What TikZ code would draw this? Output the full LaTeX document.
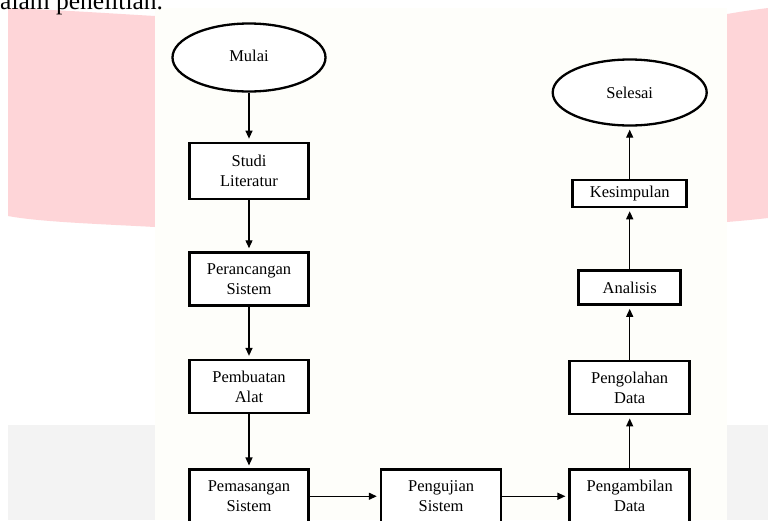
\documentclass[tikz,border=0pt]{standalone}
\usepackage{fontspec}
\setmainfont{Liberation Serif}
\usepackage{xcolor}
\usetikzlibrary{shapes.geometric, arrows.meta, positioning}

\definecolor{pagecream}{HTML}{FEFEFA}
\definecolor{bandpink}{HTML}{FED5D8}
\definecolor{bandgrey}{HTML}{F3F3F3}

\begin{document}
\begin{tikzpicture}[
  x=1pt, y=-1pt,
  node distance=52pt and 68pt,
  font=\fontsize{16.5}{20}\selectfont,
  proc/.style={rectangle, draw=black, line width=2.6pt,
               minimum width=#1, minimum height=53pt,
               inner sep=2pt, align=center, fill=white},
  proc/.default=119pt,
  term/.style={ellipse, draw=black, line width=2.3pt,
               minimum width=153pt, minimum height=68pt,
               inner sep=0pt, fill=white},
  arr/.style={-{Triangle[length=8pt, width=7pt]}, line width=1.3pt, shorten >=3pt}
]
\useasboundingbox (0,0) rectangle (768,520);

% page background: bands behind the figure
\fill[white] (0,0) rectangle (768,520);
\fill[bandpink] (8,8) .. controls (60,10) and (120,14) .. (155,16)
  -- (155,227) .. controls (100,224) and (40,222) .. (8,216) -- cycle;
\fill[bandpink] (727,14) .. controls (745,11) .. (768,8)
  -- (768,218) .. controls (750,220) .. (727,222) -- cycle;
\fill[bandgrey] (8,425) rectangle (155,520);
\fill[bandgrey] (727,425) rectangle (768,520);
\fill[pagecream] (155,8) rectangle (727,520);
\node[font=\fontsize{25.5}{28}\selectfont, anchor=base west, inner sep=0pt] (caption) at (0,9.5) {alam penelitian.};

% Left column: Mulai -> ... -> Pemasangan Sistem
\node[term] (mulai) at (249,57.5) {\raisebox{4pt}{Mulai}};
\node[proc, minimum height=56pt, below=49pt of mulai] (studi) {Studi\\Literatur};
\node[proc, below=51pt of studi]  (rancang) {Perancangan\\Sistem};
\node[proc, below=52pt of rancang] (buat)   {Pembuatan\\Alat};
\node[proc, below=54pt of buat]    (pasang) {Pemasangan\\Sistem};

% Bottom row
\node[proc=120pt, right=70pt of pasang] (uji)  {Pengujian\\Sistem};
\node[proc=120pt, right=66pt of uji]    (ambil) {Pengambilan\\Data};

% Right column: Pengolahan Data -> ... -> Selesai
\node[proc=120pt, above=53pt of ambil] (olah) {Pengolahan\\Data};
\node[proc=102pt, minimum height=34pt, above=54pt of olah] (analisis) {Analisis};
\node[proc=114pt, minimum height=27pt, above=61pt of analisis] (simpul) {Kesimpulan};
\node[term, minimum width=154pt, minimum height=66pt, above=52pt of simpul] (selesai) {Selesai};

% Arrows
\draw[arr] (mulai)   -- (studi);
\draw[arr] (studi)   -- (rancang);
\draw[arr] (rancang) -- (buat);
\draw[arr] (buat)    -- (pasang);
\draw[arr] (pasang)  -- (uji);
\draw[arr] (uji)     -- (ambil);
\draw[arr] (ambil)   -- (olah);
\draw[arr] (olah)    -- (analisis);
\draw[arr] (analisis) -- (simpul);
\draw[arr] (simpul)  -- (selesai);

\end{tikzpicture}
\end{document}
